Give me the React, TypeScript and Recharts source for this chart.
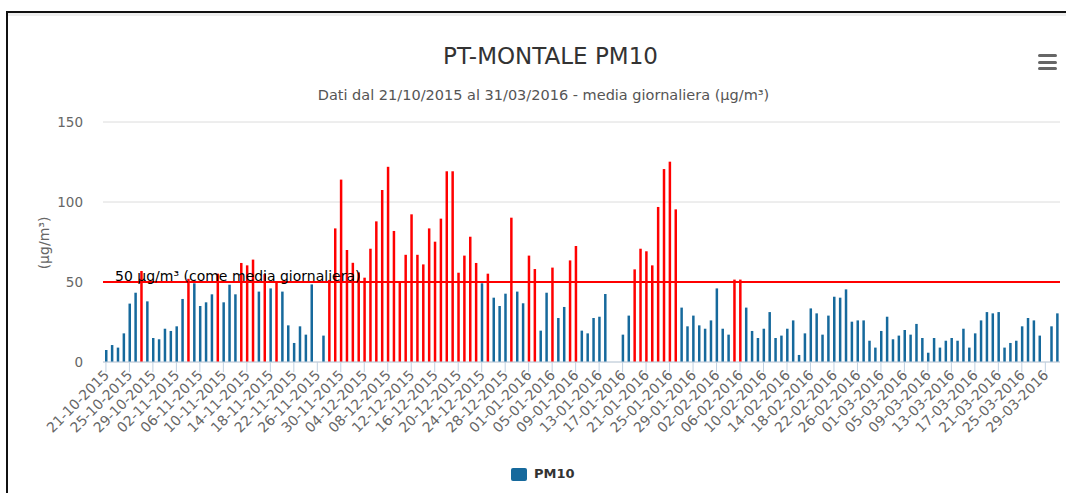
import { Bar, BarChart, CartesianGrid, Cell, ReferenceLine, XAxis, YAxis } from "recharts";

// one value per day, 21/10/2015 .. 31/03/2016 (null = no data)
const pm10: (number | null)[] = [
  7.5, 10.6, 9, 17.9, 36.5, 43.3, 56.9, 37.9, 15, 14.2,
  20.8, 19.4, 22.3, 39.4, 52, 49.2, 35, 37.3, 42.3, 55.2,
  37.3, 48.3, 42.3, 61.9, 60.4, 64, 44, 55, 46, 50.6,
  44, 22.9, 11.9, 22.3, 17.1, 48.5, null, 16.5, 51.3, 83.5,
  114, 70, 62, 56, 52.7, 70.8, 87.9, 107.5, 122, 81.9,
  50.5, 67, 92.3, 67, 61, 83.5, 75.2, 89.6, 119.2, 119.2,
  55.8, 66.5, 78.3, 61.9, 49.2, 55.2, 40.2, 35, 42.7, 90.2,
  44, 36.7, 66.5, 58.1, 19.6, 43.3, 59, 27.5, 34.4, 63.5,
  72.5, 19.6, 17.9, 27.5, 28.3, 42.5, null, null, 17.1, 29,
  57.9, 70.8, 69.2, 60.4, 96.9, 120.6, 125.2, 95.4, 34, 22.3,
  29, 22.9, 20.8, 26, 46, 20.8, 17.1, 51.5, 51.5, 34,
  19.4, 15, 20.8, 31.2, 15, 16.5, 20.8, 26, 4.4, 17.9,
  33.5, 30.4, 17.1, 29, 40.8, 40.2, 45.4, 25.2, 26, 26,
  13.3, 9, 19.4, 28.3, 14.2, 16.5, 20, 17.1, 23.8, 15,
  5.8, 15, 9, 13.3, 15, 13.3, 20.8, 9, 17.9, 26,
  31.2, 30.4, 31.2, 9, 11.9, 13.3, 22.3, 27.5, 26, 16.5,
  null, 22.3, 30.4,
];

const startDate = new Date(2015, 9, 21);
const pad = (n: number) => (n < 10 ? "0" + n : "" + n);
const days: string[] = pm10.map((_, i) => {
  const d = new Date(startDate.getFullYear(), startDate.getMonth(), startDate.getDate() + i);
  return `${pad(d.getDate())}-${pad(d.getMonth() + 1)}-${d.getFullYear()}`;
});

const yTicks = [0, 50, 100, 150];
const limit = 50;

const data = days.map((day, i) => ({ day, value: pm10[i] }));

const BLUE = "#16699c";
const RED = "#ff0000";

function DateTick({ x, y, payload }: any) {
  return (
    <g transform={`translate(${x + 4},${y + 2})`}>
      <text
        x={0}
        y={0}
        textAnchor="end"
        transform="rotate(-45)"
        fill="#666"
        fontSize={14}
        fontFamily="DejaVu Sans"
      >
        {payload.value}
      </text>
    </g>
  );
}

export default function App() {
  return (
    <div style={{ position: "absolute", left: 0, top: 0, width: 1066, height: 493, background: "#fff", overflow: "hidden", fontFamily: "DejaVu Sans" }}>
      <div style={{ position: "absolute", left: 6, top: 11, right: -10, bottom: -10, borderTop: "2px solid #111", borderLeft: "2px solid #111" }} />
      <div style={{ position: "absolute", left: 8, top: 13, right: 0, height: 3, background: "#eeeeee" }} />

      <div style={{ position: "absolute", left: 0, width: 1101, top: 43, textAlign: "center", fontSize: 23, color: "#333" }}>
        PT-MONTALE PM10
      </div>
      <div style={{ position: "absolute", left: 0, width: 1087, top: 87, textAlign: "center", fontSize: 14.5, color: "#555" }}>
        Dati dal 21/10/2015 al 31/03/2016 - media giornaliera (µg/m³)
      </div>

      {[54, 60.5, 67].map((t) => (
        <div key={t} style={{ position: "absolute", left: 1038, top: t, width: 19, height: 3, borderRadius: 2, background: "#666" }} />
      ))}

      <div style={{ position: "absolute", left: 44, top: 243, transform: "translate(-50%,-50%) rotate(-90deg)", fontSize: 14, color: "#666", whiteSpace: "nowrap" }}>
        (µg/m³)
      </div>

      <div style={{ position: "absolute", top: 0, left: 0 }}>
        <BarChart width={1066} height={493} data={data} margin={{ top: 122, right: 6, left: 43, bottom: 0 }}>
          <CartesianGrid horizontal vertical={false} stroke="#dcdcdc" />
          <XAxis
            dataKey="day"
            interval={3}
            height={131}
            tick={<DateTick />}
            tickSize={10}
            tickMargin={2}
            stroke="#c0d0e0"
            tickLine={{ stroke: "#c0d0e0" }}
            axisLine={{ stroke: "#c0d0e0" }}
          />
          <YAxis
            domain={[0, 150]}
            ticks={yTicks}
            width={60}
            axisLine={false}
            tickLine={false}
            tickSize={6}
            tickMargin={14}
            tick={{ fill: "#666", fontSize: 13.5, fontFamily: "DejaVu Sans" }}
          />
          <ReferenceLine
            y={limit}
            stroke={RED}
            strokeWidth={2}
            label={{ value: "50 µg/m³ (come media giornaliera)", position: "insideTopLeft", fill: "#000", fontSize: 14, fontFamily: "DejaVu Sans", dx: 7, dy: -16 }}
          />
          <Bar dataKey="value" barSize={2.5} isAnimationActive={false}>
            {data.map((d, i) => (
              <Cell key={i} fill={d.value != null && d.value > limit ? RED : BLUE} />
            ))}
          </Bar>
        </BarChart>
      </div>

      <div style={{ position: "absolute", left: 511, top: 468, width: 16, height: 13, background: BLUE, borderRadius: 2 }} />
      <div style={{ position: "absolute", left: 534, top: 466, fontSize: 13, fontWeight: "bold", color: "#333" }}>PM10</div>
    </div>
  );
}
